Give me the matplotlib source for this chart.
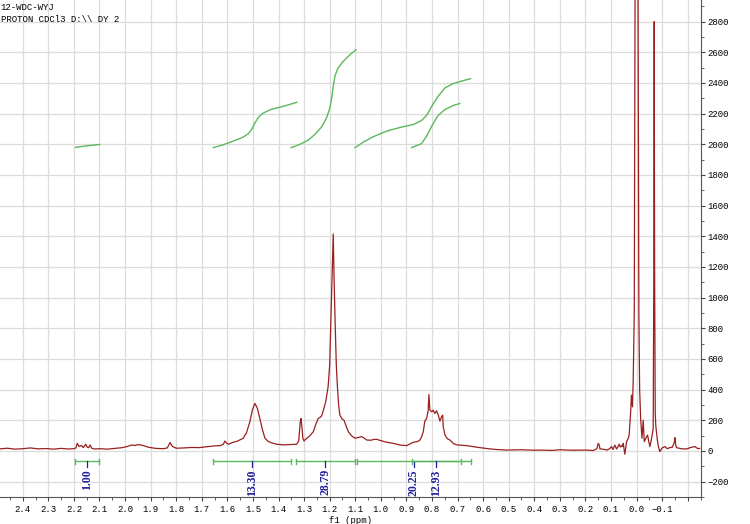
import matplotlib
matplotlib.use('Agg')
import matplotlib.pyplot as plt
import numpy as np

# spectrum (ppm, intensity)
ppm = [2.49, 2.46, 2.43, 2.40, 2.37, 2.34, 2.31, 2.28, 2.25, 2.22, 2.20,
       2.192, 2.187, 2.180, 2.170, 2.163, 2.154, 2.148, 2.142, 2.137, 2.130,
       2.12, 2.10, 2.07, 2.04, 2.01, 1.99, 1.974, 1.96, 1.95, 1.929, 1.91,
       1.88, 1.85, 1.835, 1.824, 1.815, 1.80, 1.77, 1.74, 1.71, 1.68, 1.65,
       1.628, 1.615, 1.610, 1.603, 1.597, 1.58, 1.56, 1.538, 1.525, 1.512,
       1.502, 1.492, 1.483, 1.473, 1.463, 1.453, 1.44, 1.425, 1.407, 1.38,
       1.35, 1.329, 1.321, 1.315, 1.312, 1.308, 1.305, 1.300, 1.297, 1.28,
       1.264, 1.255, 1.245, 1.237, 1.231, 1.222, 1.215, 1.206, 1.200, 1.195,
       1.190, 1.186, 1.183, 1.179, 1.174, 1.170, 1.165, 1.160, 1.152, 1.144,
       1.135, 1.127, 1.115, 1.101, 1.088, 1.075, 1.066, 1.056, 1.040, 1.025,
       1.016, 1.000, 0.980, 0.952, 0.925, 0.899, 0.873, 0.855, 0.847, 0.841,
       0.834, 0.828, 0.821, 0.815, 0.812, 0.808, 0.801, 0.795, 0.789, 0.782,
       0.776, 0.769, 0.762, 0.758, 0.756, 0.749, 0.740, 0.730, 0.717, 0.704,
       0.665, 0.613, 0.58, 0.55, 0.508, 0.45, 0.40, 0.378, 0.33, 0.30, 0.248,
       0.222, 0.195, 0.170, 0.155, 0.150, 0.146, 0.143, 0.137, 0.125, 0.117,
       0.105, 0.098, 0.092, 0.085, 0.078, 0.072, 0.068, 0.063, 0.059, 0.055,
       0.052, 0.046, 0.039, 0.033, 0.029, 0.023, 0.020, 0.016, 0.013, 0.009,
       0.0055, 0.002, 0.0, -0.002, -0.0055, -0.009, -0.012, -0.016, -0.021,
       -0.026, -0.030, -0.036, -0.043, -0.048, -0.052, -0.059, -0.065,
       -0.0675, -0.069, -0.0705, -0.073, -0.075, -0.080, -0.084, -0.091,
       -0.100, -0.111, -0.120, -0.130, -0.140, -0.148, -0.150, -0.153, -0.156,
       -0.175, -0.195, -0.210, -0.228, -0.240, -0.247]
inten = [14, 18, 12, 15, 20, 14, 16, 12, 17, 13, 15,
         20, 50, 30, 36, 22, 44, 25, 22, 39, 18,
         13, 15, 12, 17, 22, 30, 39, 36, 42, 36, 25,
         17, 15, 20, 55, 30, 18, 20, 23, 22, 28, 33,
         35, 45, 65, 52, 44, 55, 65, 83, 120, 191,
         270, 310, 280, 212, 140, 83, 62, 52, 44, 40,
         42, 44, 65, 190, 212, 150, 83, 65, 72, 95,
         126, 170, 212, 220, 230, 280, 325, 420, 560, 862,
         1150, 1415, 1150, 862, 560, 429, 300, 234, 210, 201,
         160, 126, 100, 83, 88, 94, 85, 72, 70, 76,
         76, 68, 58, 50, 39, 35, 57, 62, 72, 90,
         126, 195, 212, 260, 368, 266, 256, 266, 245, 262,
         238, 195, 224, 234, 158, 104, 80, 72, 50, 40,
         35, 22, 15, 10, 6, 8, 5, 6, 4, 8, 5,
         6, 6, 3, 15, 50, 40, 13, 13, 10, 6,
         15, 29, 10, 39, 13, 30, 44, 25, 35, 30,
         50, -21, 61, 80, 104, 256, 364, 288, 472, 900,
         3200, 9000, 10000, 9000, 3200, 900, 400, 212, 83,
         201, 61, 83, 104, 60, 29, 83, 147,
         1200, 2800, 1200, 250, 169, 90, 39, -4,
         20, 29, 15, 22, 25, 60, 87, 40, 22,
         15, 13, 22, 29, 15, 17]

# integration regions (ppm from, ppm to) and values
int_from = [2.195, 1.655, 1.332, 1.095, 0.880]
int_to = [2.100, 1.353, 1.101, 0.648, 0.688]
int_vals = ['1.00', '13.30', '28.79', '20.25', '12.93']

# integral curves (ppm, height on the intensity scale)
curve_ppm = [
    [2.193, 2.150, 2.099],
    [1.655, 1.616, 1.577, 1.538, 1.518, 1.505, 1.492, 1.479, 1.462, 1.434,
     1.394, 1.362, 1.329],
    [1.351, 1.316, 1.284, 1.258, 1.231, 1.212, 1.199, 1.191, 1.186, 1.179,
     1.167, 1.147, 1.121, 1.097],
    [1.101, 1.069, 1.030, 0.977, 0.925, 0.873, 0.841, 0.821, 0.801, 0.776,
     0.749, 0.717, 0.678, 0.649],
    [0.880, 0.841, 0.821, 0.801, 0.776, 0.749, 0.717, 0.691],
]
curve_val = [
    [1980, 1990, 1999],
    [1978, 1997, 2021, 2047, 2069, 2097, 2140, 2175, 2201, 2225, 2242, 2257,
     2274],
    [1978, 2000, 2027, 2064, 2114, 2173, 2238, 2313, 2378, 2448, 2498, 2541,
     2584, 2617],
    [1978, 2014, 2049, 2086, 2110, 2129, 2155, 2188, 2248, 2313, 2368, 2396,
     2415, 2428],
    [1978, 2004, 2053, 2118, 2188, 2227, 2253, 2266],
]

xticks = [2.4, 2.3, 2.2, 2.1, 2.0, 1.9, 1.8, 1.7, 1.6, 1.5, 1.4, 1.3, 1.2,
          1.1, 1.0, 0.9, 0.8, 0.7, 0.6, 0.5, 0.4, 0.3, 0.2, 0.1, 0.0, -0.1, -0.2]
xlabels = ['2.4', '2.3', '2.2', '2.1', '2.0', '1.9', '1.8', '1.7', '1.6', '1.5',
           '1.4', '1.3', '1.2', '1.1', '1.0', '0.9', '0.8', '0.7', '0.6', '0.5',
           '0.4', '0.3', '0.2', '0.1', '0.0', '\u22120.1', '']
yticks = [-200, 0, 200, 400, 600, 800, 1000, 1200, 1400, 1600, 1800, 2000,
          2200, 2400, 2600, 2800]

red = '#9a1f1f'
green = '#5cb85c'
blue = '#1f1f9f'
mono = 'Liberation Mono'

fig = plt.figure(figsize=(7.5, 5.24), dpi=100)
ax = fig.add_axes([0.0, 27 / 524, 700.5 / 750, 497 / 524])

ax.plot(ppm, inten, color=red, lw=0.9, zorder=3)

bar_y = -67
for a, b, lab in zip(int_from, int_to, int_vals):
    ax.plot([a, b], [bar_y, bar_y], color=green, lw=1.0, zorder=3)
    ax.plot([a, a], [bar_y - 18, bar_y + 18], color=green, lw=1.0, zorder=3)
    ax.plot([b, b], [bar_y - 18, bar_y + 18], color=green, lw=1.0, zorder=3)
    c = (a + b) / 2
    ax.plot([c, c], [bar_y, bar_y - 38], color=blue, lw=0.9, zorder=3)
    ax.text(c, bar_y - 52, lab, rotation=90, ha='center', va='top',
            color=blue, fontsize=8.5, fontweight='bold',
            family='Liberation Serif', clip_on=True)

for xs, ys in zip(curve_ppm, curve_val):
    ax.plot(xs, ys, color=green, lw=1.0, zorder=3, solid_joinstyle='round')

ax.set_xlim(2.489, -0.2475)
ax.set_ylim(-288, 2941)

ax.set_xticks(xticks)
ax.set_xticklabels(xlabels, family=mono, fontsize=6.5)
ax.set_xticks(np.arange(-0.25, 2.5, 0.05), minor=True)
ax.set_yticks(yticks)
ax.set_yticklabels([str(v).replace('-', '\u2212') for v in yticks],
                   family=mono, fontsize=6.5)
ax.set_yticks(np.arange(-300, 2950, 100), minor=True)

ax.yaxis.tick_right()
ax.tick_params(axis='both', which='major', direction='out', length=3,
               width=0.8, color='#444444')
ax.tick_params(axis='both', which='minor', direction='out', length=2,
               width=0.6, color='#444444')
ax.tick_params(axis='x', pad=3)
ax.tick_params(axis='y', pad=2)

ax.grid(True, which='major', color='#dcdcdc', lw=0.9)
ax.set_axisbelow(True)
for s in ['top', 'left']:
    ax.spines[s].set_visible(False)
for s in ['bottom', 'right']:
    ax.spines[s].set_color('#555555')
    ax.spines[s].set_linewidth(0.8)

ax.set_xlabel('f1 (ppm)', family=mono, fontsize=6.5, labelpad=1)

fig.text(0.001, 0.995, '12-WDC-WYJ', family=mono, fontsize=6.5,
         va='top', ha='left')
fig.text(0.001, 0.972, 'PROTON CDCl3 D:\\\\ DY 2', family=mono, fontsize=6.5,
         va='top', ha='left')

fig.savefig('out.png', dpi=100)
